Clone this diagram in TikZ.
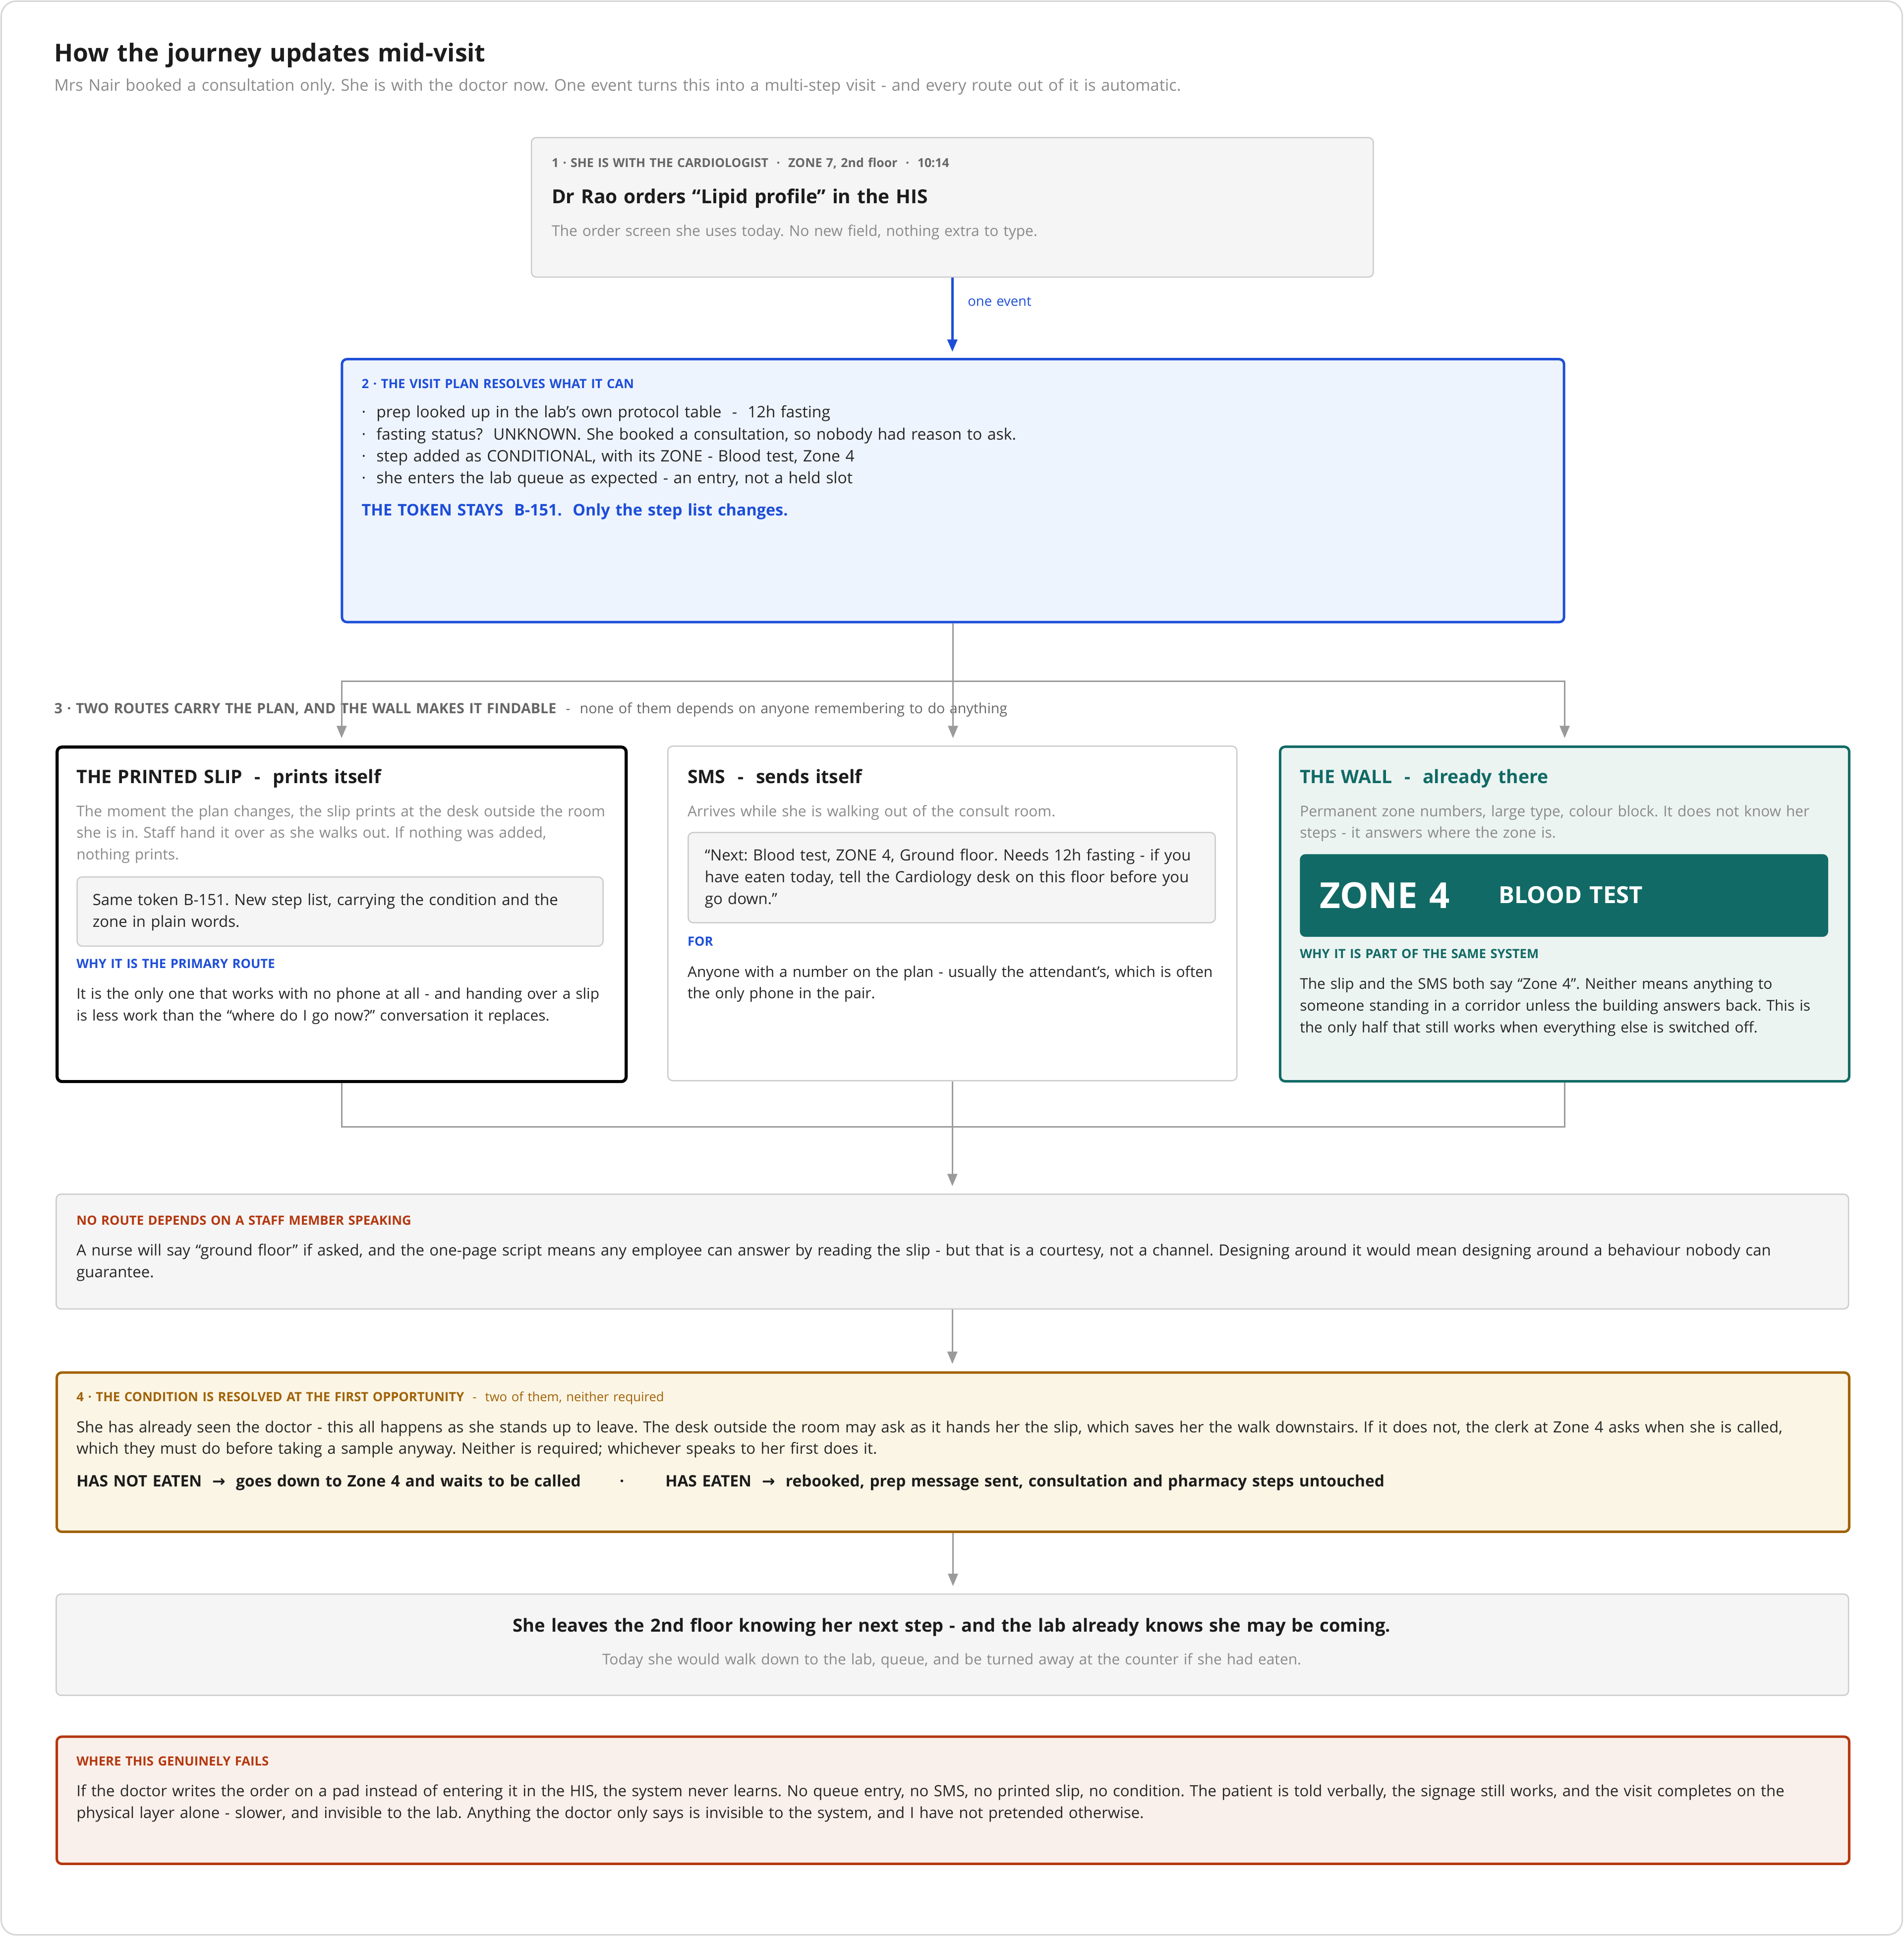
\documentclass[tikz,border=0pt]{standalone}
\usepackage{fontspec}
\setmainfont{Open Sans}
\newfontfamily\symf{DejaVu Sans}
\usetikzlibrary{arrows.meta}
\frenchspacing
\definecolor{inkc}{HTML}{1C1C1C}
\definecolor{bodyc}{HTML}{262626}
\definecolor{mutedc}{HTML}{8A8A8A}
\definecolor{labgray}{HTML}{666666}
\definecolor{bordc}{HTML}{CCCCCC}
\definecolor{boxf}{HTML}{F5F5F5}
\definecolor{framec}{HTML}{D6D6D6}
\definecolor{bluec}{HTML}{1D4ED8}
\definecolor{bluef}{HTML}{EEF4FD}
\definecolor{tealc}{HTML}{116A65}
\definecolor{tealf}{HTML}{ECF4F2}
\definecolor{amberc}{HTML}{A16207}
\definecolor{amberf}{HTML}{FBF5E5}
\definecolor{rustc}{HTML}{B4380F}
\definecolor{rustf}{HTML}{FAF0EB}
\definecolor{connc}{HTML}{9A9A9A}
\newcommand\fsz[2]{\fontsize{#1}{#2}\selectfont}
\tikzset{
  panel/.style={draw=bordc, fill=boxf, line width=1pt, rounded corners=4pt, inner sep=0pt, anchor=north west},
  t/.style={inner sep=0pt, outer sep=0pt, anchor=base west, align=left, text width=1450pt},
  tc/.style={inner sep=0pt, outer sep=0pt, anchor=base, align=center, text width=1400pt},
  lab/.style={t, font=\fsz{10.3}{12}\bfseries},
  body/.style={t, font=\fsz{12.5}{17.5}, text=bodyc},
  cbody/.style={t, font=\fsz{12}{17.5}, text=bodyc},
  muted/.style={t, font=\fsz{12}{17.5}, text=mutedc},
  cardtitle/.style={t, font=\fsz{15}{18}\bfseries, text=inkc},
  conn/.style={draw=connc, line width=1.3pt},
  connarrow/.style={conn, -{Triangle[length=10pt,width=8pt]}, shorten >=6pt},
}
\begin{document}
\begin{tikzpicture}[x=1pt,y=-1pt]
\useasboundingbox (0,0) rectangle (1542,1568.5);
\draw[framec, line width=1.2pt, rounded corners=12pt] (1,1) rectangle (1541,1567.5);

% header
\node[t, font=\fsz{20}{24}\bfseries, text=inkc] (title) at (44,50) {How the journey updates mid-visit};
\node[muted, font=\fsz{13.05}{16}] (subtitle) at (44,73.5) {Mrs Nair booked a consultation only. She is with the doctor now. One event turns this into a multi-step visit - and every route out of it is automatic.};

% box 1
\node[panel, minimum width=682pt, minimum height=113pt] (b1) at (430,111) {};
\node[lab, font=\fsz{10}{12}\bfseries, text=labgray] (b1lab) at (447,135.5) {1 · SHE IS WITH THE CARDIOLOGIST\ \ ·\ \ ZONE 7, 2nd floor\ \ ·\ \ 10:14};
\node[t, font=\fsz{15.6}{20}\bfseries, text=inkc] (b1title) at (447,165) {Dr Rao orders “Lipid profile” in the HIS};
\node[muted] (b1desc) at (447,191.5) {The order screen she uses today. No new field, nothing extra to type.};

% box 2
\node[panel, draw=bluec, fill=bluef, line width=2pt, minimum width=990pt, minimum height=213pt] (b2) at (276,290) {};
\node[lab, text=bluec] (b2lab) at (293,314.5) {2 · THE VISIT PLAN RESOLVES WHAT IT CAN};
\node[t, font=\fsz{12.8}{17.7}, text=bodyc] (b2list) at (293,338.5) {·\ \ prep looked up in the lab’s own protocol table\ \ -\ \ 12h fasting\\
·\ \ fasting status?\ \ UNKNOWN. She booked a consultation, so nobody had reason to ask.\\
·\ \ step added as CONDITIONAL, with its ZONE - Blood test, Zone 4\\
·\ \ she enters the lab queue as expected - an entry, not a held slot};
\node[t, font=\fsz{13}{17}\bfseries, text=bluec] (b2token) at (293,418) {THE TOKEN STAYS\ \ B-151.\ \ Only the step list changes.};

\draw[bluec, line width=1.8pt, -{Triangle[length=10pt,width=8pt]}, shorten >=5pt] (b1.south) -- (b1.south |- b2.north);
\node[t, font=\fsz{11}{13}, text=bluec] (evlab) at (784,248) {one event};

% section 3 label
\node[t, font=\fsz{11.5}{13}, text=labgray] (s3lab) at (44,578) {\textbf{3 · TWO ROUTES CARRY THE PLAN, AND THE WALL MAKES IT FINDABLE}\ \ -\ \ none of them depends on anyone remembering to do anything};

% card 1: printed slip
\node[panel, draw=black, fill=white, line width=2.5pt, minimum width=461pt, minimum height=271pt] (c1) at (45,604) {};
\node[cardtitle] (c1title) at (62,634.5) {THE PRINTED SLIP\ \ -\ \ prints itself};
\node[muted] (c1desc) at (62,661.5) {The moment the plan changes, the slip prints at the desk outside the room\\
she is in. Staff hand it over as she walks out. If nothing was added,\\
nothing prints.};
\node[panel, minimum width=426pt, minimum height=56pt] (c1in) at (62,710) {};
\node[body] (c1intext) at (75,733.5) {Same token B-151. New step list, carrying the condition and the\\
zone in plain words.};
\node[lab, text=bluec] (c1why) at (62,784.5) {WHY IT IS THE PRIMARY ROUTE};
\node[cbody] (c1body) at (62,809.5) {It is the only one that works with no phone at all - and handing over a slip\\
is less work than the “where do I go now?” conversation it replaces.};

% card 2: SMS
\node[panel, fill=white, minimum width=461pt, minimum height=271pt] (c2) at (540.5,604) {};
\node[cardtitle] (c2title) at (557,634.5) {SMS\ \ -\ \ sends itself};
\node[muted] (c2desc) at (557,661.5) {Arrives while she is walking out of the consult room.};
\node[panel, minimum width=427pt, minimum height=73pt] (c2in) at (557,674) {};
\node[body] (c2intext) at (571,697.5) {“Next: Blood test, ZONE 4, Ground floor. Needs 12h fasting - if you\\
have eaten today, tell the Cardiology desk on this floor before you\\
go down.”};
\node[lab, text=bluec] (c2for) at (557,766.5) {FOR};
\node[cbody] (c2body) at (557,791.5) {Anyone with a number on the plan - usually the attendant’s, which is often\\
the only phone in the pair.};

% card 3: wall
\node[panel, draw=tealc, fill=tealf, line width=2pt, minimum width=461pt, minimum height=271pt] (c3) at (1036,604) {};
\node[cardtitle, text=tealc] (c3title) at (1053,634.5) {THE WALL\ \ -\ \ already there};
\node[muted] (c3desc) at (1053,661.5) {Permanent zone numbers, large type, colour block. It does not know her\\
steps - it answers where the zone is.};
\node[panel, draw=tealc, fill=tealc, minimum width=427pt, minimum height=66pt] (sign) at (1053,692) {};
\node[t, font=\fsz{29}{32}\bfseries, text=white] (signzone) at (1069,736) {ZONE 4};
\node[t, font=\fsz{19}{22}\bfseries, text=white] (signtest) at (1214,732) {BLOOD TEST};
\node[lab, text=tealc] (c3why) at (1053,776.5) {WHY IT IS PART OF THE SAME SYSTEM};
\node[cbody] (c3body) at (1053,801.5) {The slip and the SMS both say “Zone 4”. Neither means anything to\\
someone standing in a corridor unless the building answers back. This is\\
the only half that still works when everything else is switched off.};

% no route box
\node[panel, minimum width=1452pt, minimum height=93pt] (nr) at (45,967) {};
\node[lab, text=rustc] (nrlab) at (62,992.5) {NO ROUTE DEPENDS ON A STAFF MEMBER SPEAKING};
\node[body] (nrbody) at (62,1017.5) {A nurse will say “ground floor” if asked, and the one-page script means any employee can answer by reading the slip - but that is a courtesy, not a channel. Designing around it would mean designing around a behaviour nobody can\\
guarantee.};

% box 4
\node[panel, draw=amberc, fill=amberf, line width=2pt, minimum width=1452pt, minimum height=129pt] (b4) at (45,1111) {};
\node[t, font=\fsz{10.3}{12}, text=amberc] (b4lab) at (62,1135.5) {\textbf{4 · THE CONDITION IS RESOLVED AT THE FIRST OPPORTUNITY}\ \ -\ \ two of them, neither required};
\node[body] (b4body) at (62,1160.5) {She has already seen the doctor - this all happens as she stands up to leave. The desk outside the room may ask as it hands her the slip, which saves her the walk downstairs. If it does not, the clerk at Zone 4 asks when she is called,\\
which they must do before taking a sample anyway. Neither is required; whichever speaks to her first does it.};
\node[t, font=\fsz{12.75}{16}\bfseries, text=inkc] (b4no) at (62,1204.5) {HAS NOT EATEN\ \ {\symf →}\ \ goes down to Zone 4 and waits to be called};
\node[t, font=\fsz{12.75}{16}\bfseries, text=inkc] (b4dot) at (502,1204.5) {·};
\node[t, font=\fsz{12.75}{16}\bfseries, text=inkc] (b4yes) at (539,1204.5) {HAS EATEN\ \ {\symf →}\ \ rebooked, prep message sent, consultation and pharmacy steps untouched};

% box 5
\node[panel, minimum width=1452pt, minimum height=82pt] (b5) at (45,1291) {};
\node[tc, font=\fsz{14.6}{18}\bfseries, text=inkc] (b5title) at (771,1322) {She leaves the 2nd floor knowing her next step - and the lab already knows she may be coming.};
\node[tc, font=\fsz{12}{16}, text=mutedc] (b5sub) at (771,1348.5) {Today she would walk down to the lab, queue, and be turned away at the counter if she had eaten.};

% box 6
\node[panel, draw=rustc, fill=rustf, line width=2pt, minimum width=1452pt, minimum height=103pt] (b6) at (45,1406) {};
\node[lab, text=rustc] (b6lab) at (62,1430.5) {WHERE THIS GENUINELY FAILS};
\node[body] (b6body) at (62,1455.5) {If the doctor writes the order on a pad instead of entering it in the HIS, the system never learns. No queue entry, no SMS, no printed slip, no condition. The patient is told verbally, the signage still works, and the visit completes on the\\
physical layer alone - slower, and invisible to the lab. Anything the doctor only says is invisible to the system, and I have not pretended otherwise.};

% connectors
\coordinate (split) at (771,552);
\coordinate (merge) at (771,913);
\draw[connarrow] (b2.south) -- (b2.south |- c2.north);
\draw[connarrow] (split) -| (c1.north);
\draw[connarrow] (split) -| (c3.north);
\draw[conn] (c1.south) |- (merge);
\draw[conn] (c3.south) |- (merge);
\draw[connarrow] (c2.south) -- (c2.south |- nr.north);
\draw[connarrow] (nr.south) -- (nr.south |- b4.north);
\draw[connarrow] (b4.south) -- (b4.south |- b5.north);
\end{tikzpicture}
\end{document}
